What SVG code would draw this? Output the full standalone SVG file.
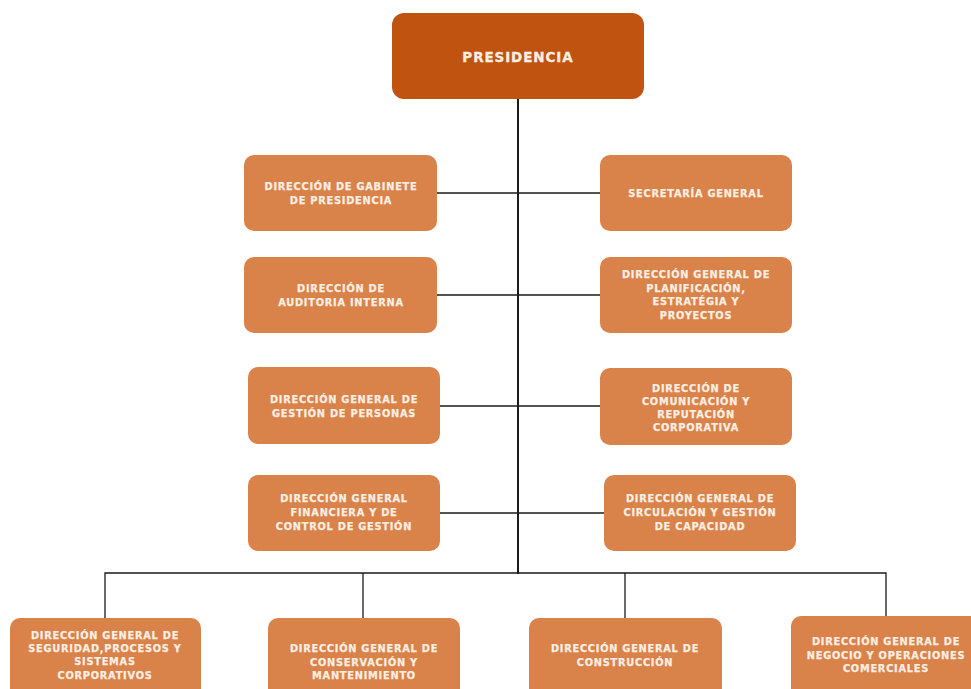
<svg xmlns="http://www.w3.org/2000/svg" width="971" height="689" viewBox="0 0 971 689">
<style>
.box{fill:#d9824a;}
.top{fill:#c0530f;}
.t{font-family:"DejaVu Sans","Liberation Sans",sans-serif;font-weight:bold;font-size:9.8px;letter-spacing:0.75px;fill:#fbefe4;stroke:#fbefe4;stroke-width:0.25;text-anchor:middle;}
.tp{font-family:"DejaVu Sans","Liberation Sans",sans-serif;font-weight:bold;font-size:13.5px;letter-spacing:0.9px;fill:#fbefe4;stroke:#fbefe4;stroke-width:0.3;text-anchor:middle;}
.c{stroke:#1a1a1a;fill:none;}
</style>
<rect width="971" height="689" fill="#ffffff"/>
<g id="connectors">
<line class="c" x1="518" y1="99" x2="518" y2="574" stroke-width="2"/>
<line class="c" x1="437" y1="193" x2="600" y2="193" stroke-width="1.3"/>
<line class="c" x1="437" y1="295" x2="600" y2="295" stroke-width="1.3"/>
<line class="c" x1="440" y1="406" x2="600" y2="406" stroke-width="1.3"/>
<line class="c" x1="440" y1="513" x2="604" y2="513" stroke-width="1.3"/>
<polyline class="c" points="105,618 105,573 886,573 886,616" stroke-width="1.3"/>
<line class="c" x1="363" y1="573" x2="363" y2="618" stroke-width="1.3"/>
<line class="c" x1="625" y1="573" x2="625" y2="618" stroke-width="1.3"/>
</g>
<g id="presidencia">
<rect class="top" x="392" y="13" width="252" height="86" rx="12"/>
<text class="tp" x="518" y="62">PRESIDENCIA</text>
</g>
<g id="gabinete">
<rect class="box" x="244" y="155" width="193" height="76" rx="10"/>
<text class="t" x="341" y="190">DIRECCIÓN DE GABINETE</text>
<text class="t" x="341" y="204">DE PRESIDENCIA</text>
</g>
<g id="secretaria">
<rect class="box" x="600" y="155" width="192" height="76" rx="10"/>
<text class="t" x="696" y="197">SECRETARÍA GENERAL</text>
</g>
<g id="auditoria">
<rect class="box" x="244" y="257" width="193" height="76" rx="10"/>
<text class="t" x="341" y="292">DIRECCIÓN DE</text>
<text class="t" x="341" y="306">AUDITORIA INTERNA</text>
</g>
<g id="planificacion">
<rect class="box" x="600" y="257" width="192" height="76" rx="10"/>
<text class="t" x="696" y="278">DIRECCIÓN GENERAL DE</text>
<text class="t" x="696" y="292">PLANIFICACIÓN,</text>
<text class="t" x="696" y="305">ESTRATÉGIA Y</text>
<text class="t" x="696" y="319">PROYECTOS</text>
</g>
<g id="personas">
<rect class="box" x="248" y="367" width="192" height="77" rx="10"/>
<text class="t" x="344" y="403">DIRECCIÓN GENERAL DE</text>
<text class="t" x="344" y="417">GESTIÓN DE PERSONAS</text>
</g>
<g id="comunicacion">
<rect class="box" x="600" y="368" width="192" height="77" rx="10"/>
<text class="t" x="696" y="392">DIRECCIÓN DE</text>
<text class="t" x="696" y="405">COMUNICACIÓN Y</text>
<text class="t" x="696" y="418">REPUTACIÓN</text>
<text class="t" x="696" y="431">CORPORATIVA</text>
</g>
<g id="financiera">
<rect class="box" x="248" y="475" width="192" height="76" rx="10"/>
<text class="t" x="344" y="502">DIRECCIÓN GENERAL</text>
<text class="t" x="344" y="516">FINANCIERA Y DE</text>
<text class="t" x="344" y="530">CONTROL DE GESTIÓN</text>
</g>
<g id="circulacion">
<rect class="box" x="604" y="475" width="192" height="76" rx="10"/>
<text class="t" x="700" y="502">DIRECCIÓN GENERAL DE</text>
<text class="t" x="700" y="516">CIRCULACIÓN Y GESTIÓN</text>
<text class="t" x="700" y="530">DE CAPACIDAD</text>
</g>
<g id="seguridad">
<rect class="box" x="10" y="618" width="191" height="80" rx="10"/>
<text class="t" x="105" y="639">DIRECCIÓN GENERAL DE</text>
<text class="t" x="105" y="652">SEGURIDAD,PROCESOS Y</text>
<text class="t" x="105" y="665">SISTEMAS</text>
<text class="t" x="105" y="679">CORPORATIVOS</text>
</g>
<g id="conservacion">
<rect class="box" x="268" y="618" width="192" height="80" rx="10"/>
<text class="t" x="364" y="652">DIRECCIÓN GENERAL DE</text>
<text class="t" x="364" y="666">CONSERVACIÓN Y</text>
<text class="t" x="364" y="679">MANTENIMIENTO</text>
</g>
<g id="construccion">
<rect class="box" x="529" y="618" width="193" height="80" rx="10"/>
<text class="t" x="625" y="652">DIRECCIÓN GENERAL DE</text>
<text class="t" x="625" y="666">CONSTRUCCIÓN</text>
</g>
<g id="negocio">
<rect class="box" x="791" y="616" width="190" height="82" rx="10"/>
<text class="t" x="886" y="645">DIRECCIÓN GENERAL DE</text>
<text class="t" x="886" y="659">NEGOCIO Y OPERACIONES</text>
<text class="t" x="886" y="672">COMERCIALES</text>
</g>
</svg>
